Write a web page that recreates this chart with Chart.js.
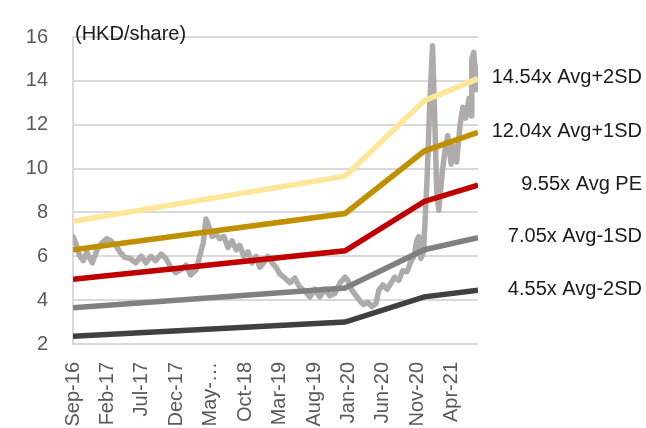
<!DOCTYPE html>
<html>
<head>
<meta charset="utf-8">
<script src="https://cdn.jsdelivr.net/npm/chart.js@4"></script>
<style>
  body { margin: 0; background: #fff; }
  #wrap { width: 646px; height: 428px; position: relative; }
</style>
</head>
<body>
<div id="wrap"><canvas id="peBand"></canvas></div>
<script>
// Month index 0 = Sep-16, one unit per month
const tickLabels = ['Sep-16', 'Feb-17', 'Jul-17', 'Dec-17', 'May-\u2026', 'Oct-18',
                    'Mar-19', 'Aug-19', 'Jan-20', 'Jun-20', 'Nov-20', 'Apr-21'];

// Share price (HKD)
const priceMonths = [0, 0.4, 1.0, 1.5, 2.0, 2.8, 3.5, 4.2, 4.9, 5.5, 6.2, 6.8, 7.5, 8.3, 9.1, 9.9,
  10.6, 11.3, 12.0, 12.8, 13.5, 14.2, 14.9, 15.7, 16.4, 17.1, 17.9, 18.4, 18.9, 19.3, 19.7,
  20.2, 20.8, 21.3, 21.9, 22.5, 23.1, 23.7, 24.2, 24.8, 25.4, 26.0, 26.6, 27.1, 27.7, 28.3,
  28.9, 29.5, 30.0, 30.8, 31.5, 32.2, 32.9, 33.7, 34.4, 35.1, 35.8, 36.6, 37.3, 38.0, 38.8,
  39.5, 39.9, 40.5, 41.1, 41.7, 42.2, 42.8, 43.4, 44.0, 44.4, 45.0, 45.6, 46.2, 46.7, 47.3,
  47.9, 48.5, 49.1, 49.5, 49.9, 50.2, 50.5, 50.9, 51.4, 51.8, 52.2, 52.5, 52.8, 53.1, 53.6,
  54.0, 54.4, 54.9, 55.3, 55.7, 56.2, 56.6, 57.0, 57.5, 57.8, 57.9, 58.2, 58.5, 58.8];
const priceValues = [6.9, 6.6, 6.0, 5.8, 6.2, 5.7, 6.3, 6.6, 6.8, 6.7, 6.5, 6.2, 5.95, 5.9, 5.7, 6.0,
  5.7, 6.0, 5.8, 6.1, 5.9, 5.5, 5.25, 5.4, 5.6, 5.15, 5.4, 6.0, 6.6, 7.7, 7.4,
  6.9, 7.0, 6.8, 6.9, 6.4, 6.7, 6.3, 6.5, 6.0, 6.2, 5.7, 6.0, 5.5, 5.7, 6.0,
  5.7, 5.5, 5.2, 5.0, 4.8, 5.0, 4.6, 4.4, 4.15, 4.5, 4.15, 4.5, 4.2, 4.3, 4.8,
  5.05, 4.9, 4.45, 4.2, 3.95, 3.8, 3.9, 3.7, 3.85, 4.45, 4.7, 4.5, 4.8, 5.05, 4.9,
  5.35, 5.3, 5.8, 6.0, 6.7, 6.9, 5.9, 6.2, 9.5, 13.0, 15.6, 12.5, 9.0, 8.1, 9.8,
  10.8, 11.5, 10.2, 11.0, 10.3, 12.0, 12.8, 12.3, 13.2, 12.4, 15.0, 15.3, 13.6, 14.6];

// PE band lines (HKD/share) at their turning points
const bandMonths = [0, 39.5, 51, 58.8];
const plus2SD  = [7.6, 9.65, 13.1, 14.1];
const plus1SD  = [6.3, 7.95, 10.8, 11.65];
const avgPE    = [4.95, 6.25, 8.5, 9.25];
const minus1SD = [3.65, 4.55, 6.3, 6.85];
const minus2SD = [2.35, 3.0, 4.15, 4.45];

const bandNames = ['14.54x Avg+2SD', '12.04x Avg+1SD', '9.55x Avg PE', '7.05x Avg-1SD', '4.55x Avg-2SD'];
const bandSeries = [plus2SD, plus1SD, avgPE, minus1SD, minus2SD];
const bandColors = ['#FFE699', '#BF9000', '#C00000', '#808080', '#404040'];

const FONT = 'Liberation Sans, Arial, sans-serif';

function toPoints(xs, ys) {
    return xs.map((x, i) => ({ x: x, y: ys[i] }));
}

// Unit note and band labels on the right
const textPlugin = {
    id: 'bandText',
    afterDatasetsDraw(chart) {
        const ctx = chart.ctx;
        const area = chart.chartArea;
        const y = chart.scales.y;
        ctx.save();
        ctx.font = '20px ' + FONT;
        ctx.fillStyle = '#1a1a1a';
        ctx.textBaseline = 'middle';
        ctx.textAlign = 'left';
        ctx.fillText('(HKD/share)', area.left + 2, area.top - 3);
        ctx.textAlign = 'right';
        bandSeries.forEach((s, i) => {
            ctx.fillText(bandNames[i], chart.width - 4, y.getPixelForValue(s[s.length - 1]) - 1);
        });
        ctx.restore();
    }
};

const datasets = bandSeries.map((s, i) => ({
    label: bandNames[i],
    data: toPoints(bandMonths, s),
    borderColor: bandColors[i],
    borderWidth: 5.5,
    pointRadius: 0,
    order: 1
}));
datasets.push({
    label: 'Price',
    data: toPoints(priceMonths, priceValues),
    borderColor: '#AFABAB',
    borderWidth: 5.5,
    pointRadius: 0,
    borderJoinStyle: 'round',
    borderCapStyle: 'round',
    order: 10
});

new Chart(document.getElementById('peBand').getContext('2d'), {
    type: 'line',
    data: { datasets: datasets },
    options: {
        responsive: true,
        maintainAspectRatio: false,
        animation: false,
        layout: { padding: { left: 0, top: 36, right: 168, bottom: 0 } },
        plugins: { legend: { display: false }, tooltip: { enabled: false } },
        scales: {
            x: {
                type: 'linear',
                min: 0,
                max: 58.8,
                grid: { display: false },
                border: { display: false },
                ticks: {
                    stepSize: 5,
                    includeBounds: false,
                    autoSkip: false,
                    maxRotation: 90,
                    minRotation: 90,
                    padding: 10,
                    color: '#595959',
                    font: { family: FONT, size: 20 },
                    callback: (v) => tickLabels[v / 5] || ''
                },
                afterFit: (scale) => { scale.height = 84; }
            },
            y: {
                min: 2,
                max: 16,
                grid: { color: '#D9D9D9', lineWidth: 2, drawTicks: false },
                border: { color: '#D9D9D9', width: 2 },
                ticks: {
                    stepSize: 2,
                    padding: 25,
                    color: '#595959',
                    font: { family: FONT, size: 20 }
                },
                afterFit: (scale) => { scale.width = 73; }
            }
        }
    },
    plugins: [textPlugin]
});
</script>
</body>
</html>
